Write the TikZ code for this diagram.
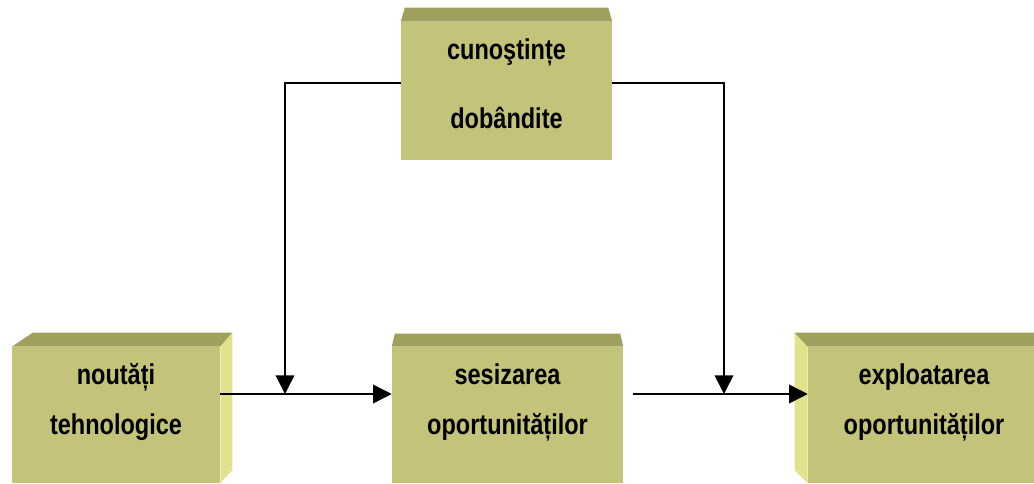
\documentclass[tikz,border=0pt]{standalone}
\usepackage{fontspec}
\setmainfont{Liberation Sans}[FakeStretch=0.82]
\usetikzlibrary{arrows.meta,positioning}
\definecolor{boxfront}{RGB}{195,195,122}
\definecolor{boxtop}{RGB}{160,160,94}
\definecolor{boxside}{RGB}{226,226,140}
\tikzset{
  dface/.style={fill=boxfront, inner sep=0pt, minimum height=102pt},
  dtop/.style={fill=boxtop},
  dside/.style={fill=boxside},
  dtext/.style={align=center, inner sep=0pt, font=\bfseries\fontsize{21.5pt}{37.5pt}\selectfont},
  darrow/.style={-{Triangle[length=14pt,width=14pt]}, line width=1.1pt}
}

\begin{document}
\begin{tikzpicture}[x=0.75pt,y=-0.75pt]
\useasboundingbox (0,0) rectangle (1034,483);
% front faces
\node[dface, minimum width=158.25pt, minimum height=103.5pt] (know) at (506.5,91) {};
\node[dface, minimum width=156pt] (nov) at (116,415) {};
\node[dface, minimum width=173.25pt] (ses) at (507.5,415) {};
\node[dface, minimum width=174pt] (expl) at (924,415) {};

% top and side faces
\fill[dtop] (know.north west) -- (know.north east) -- ++(-4,-14) -- ([shift={(4,-14)}]know.north west) -- cycle;
\fill[dtop] (nov.north west) -- (nov.north east) -- ++(12,-14) -- ([shift={(21,-14)}]nov.north west) -- cycle;
\fill[dside] (nov.north east) -- ++(12,-14) -- ([shift={(12,-13)}]nov.south east) -- (nov.south east) -- cycle;
\fill[dtop] (ses.north west) -- (ses.north east) -- ++(-3,-13) -- ([shift={(3,-13)}]ses.north west) -- cycle;
\fill[dside] (expl.north west) -- ++(-13,-14) -- ([shift={(-13,-13)}]expl.south west) -- (expl.south west) -- cycle;
\fill[dtop] (expl.north west) -- ++(-13,-14) -- ([shift={(0,-14)}]expl.north east) -- (expl.north east) -- cycle;

% texts
\node[dtext] (know-t) at (506.5,84) {cunoştințe\\[14pt]dobândite};
\node[dtext] (nov-t) at (116,402) {noutăți\\tehnologice};
\node[dtext] (ses-t) at (507.5,402) {sesizarea\\oportunităților};
\node[dtext] (expl-t) at (924,402) {exploatarea\\oportunităților};

% connectors
\coordinate (jl) at (285,394);
\coordinate (jr) at (724,394);
\draw[darrow] (nov.east |- jl) -- (ses.west |- jl);
\draw[darrow, shorten <=7pt] (ses.east |- jr) -- (expl.west |- jr);
\draw[darrow] ([yshift=6pt]know.west) -| (jl);
\draw[darrow] ([yshift=6pt]know.east) -| (jr);
\end{tikzpicture}
\end{document}
